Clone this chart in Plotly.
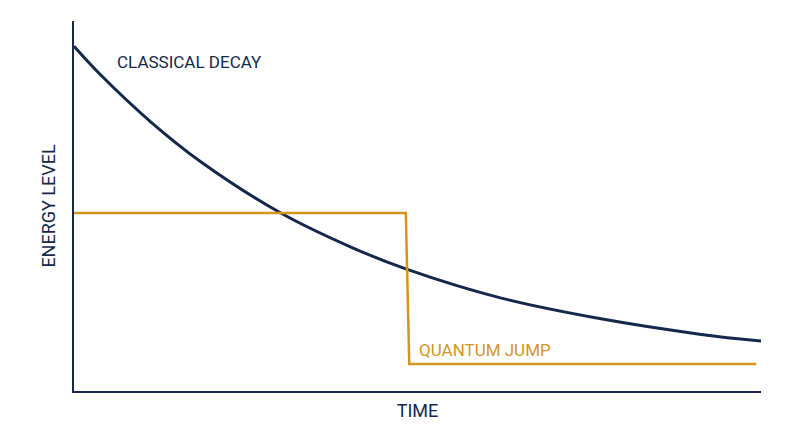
import plotly.graph_objects as go

decay_t = [0, 0.39, 1.12, 1.85, 3.01, 4.03, 4.83, 6.22, 7.67, 9.13, 10]
decay_e = [9.32, 8.54, 7.27, 6.19, 4.81, 3.89, 3.30, 2.51, 1.95, 1.53, 1.35]
jump_t = [0, 4.83, 4.88, 9.93]
jump_e = [4.81, 4.81, 0.73, 0.73]

navy = "#14284b"
gold = "#d4951e"
font = "Roboto"

fig = go.Figure()
fig.add_trace(go.Scatter(x=decay_t, y=decay_e, mode="lines",
                         line=dict(color=navy, width=3, shape="spline"), hoverinfo="skip"))
fig.add_trace(go.Scatter(x=jump_t, y=jump_e, mode="lines",
                         line=dict(color=gold, width=2.5), hoverinfo="skip"))
fig.add_annotation(x=0.6, y=8.9, text="CLASSICAL DECAY", showarrow=False, xanchor="left",
                   font=dict(family=font, size=17, color=navy))
fig.add_annotation(x=4.99, y=1.1, text="QUANTUM JUMP", showarrow=False, xanchor="left",
                   font=dict(family=font, size=17, color=gold))
axis = dict(showline=True, linecolor=navy, linewidth=2, showgrid=False, zeroline=False,
            showticklabels=False, ticks="", range=[0, 10], fixedrange=True)
fig.update_layout(
    width=800, height=447, showlegend=False,
    margin=dict(l=66, r=47, t=13, b=64),
    plot_bgcolor="white", paper_bgcolor="white",
    xaxis=dict(axis, title=dict(text="TIME", font=dict(family=font, size=18, color=navy), standoff=12)),
    yaxis=dict(axis, title=dict(text="ENERGY LEVEL", font=dict(family=font, size=18, color=navy), standoff=12)),
)
fig.write_html("out.html")
